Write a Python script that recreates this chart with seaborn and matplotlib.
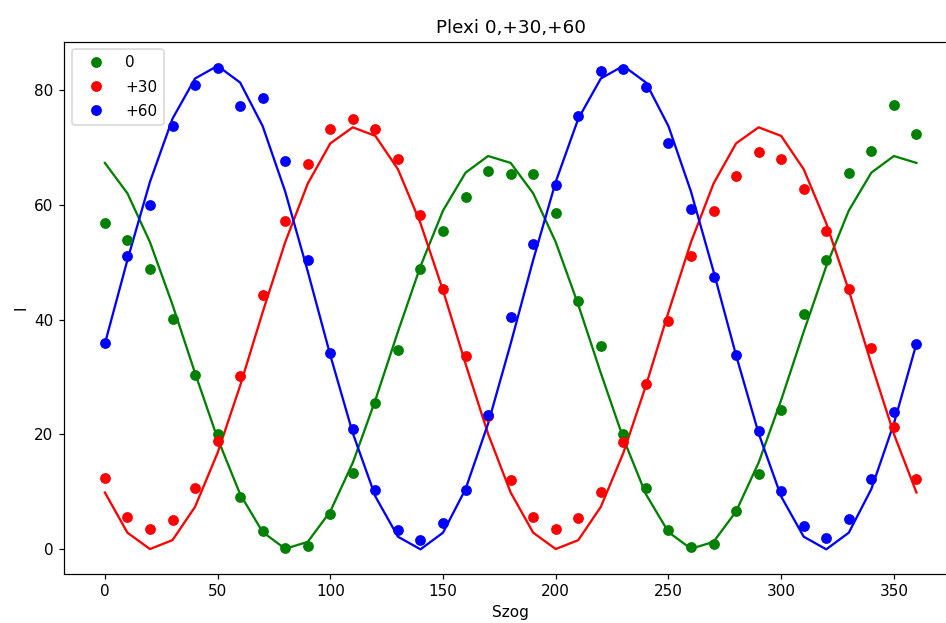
import numpy as np
import pandas as pd
import matplotlib
matplotlib.use("Agg")
import matplotlib.pyplot as plt
from matplotlib.lines import Line2D
import seaborn as sns

szog = list(range(0, 361, 10))

# measured points
i_0 = [56.9, 53.9, 48.9, 40.2, 30.3, 20.0, 9.1, 3.2, 0.2, 0.6, 6.2, 13.3, 25.4, 34.8,
       48.9, 55.5, 61.3, 65.9, 65.4, 65.4, 58.6, 43.3, 35.4, 20.0, 10.7, 3.4, 0.4, 1.0,
       6.7, 13.1, 24.3, 40.9, 50.4, 65.6, 69.4, 77.4, 72.4]
i_30 = [12.5, 5.6, 3.5, 5.1, 10.6, 18.9, 30.2, 44.3, 57.2, 67.1, 73.2, 74.9, 73.2, 68.0,
        58.2, 45.3, 33.6, 23.2, 12.1, 5.6, 3.6, 5.5, 9.9, 18.7, 28.8, 39.8, 51.1, 58.9,
        65.1, 69.2, 67.9, 62.7, 55.5, 45.3, 35.0, 21.3, 12.3]
i_60 = [36.0, 51.1, 60.0, 73.8, 80.9, 83.9, 77.2, 78.6, 67.6, 50.4, 34.2, 20.9, 10.3, 3.3,
        1.7, 4.6, 10.3, 23.4, 40.5, 53.2, 63.4, 75.4, 83.3, 83.7, 80.5, 70.8, 59.3, 47.5,
        33.8, 20.6, 10.1, 4.1, 1.9, 5.3, 12.3, 23.9, 35.8]

# fitted curves
fit_0 = [67.3, 62.0, 53.5, 42.6, 30.7, 19.3, 9.6, 3.0, 0.1, 1.3, 6.6, 15.1, 26.0, 37.9,
         49.3, 59.0, 65.6, 68.5, 67.3, 62.0, 53.5, 42.6, 30.7, 19.3, 9.6, 3.0, 0.1, 1.3,
         6.6, 15.1, 26.0, 37.9, 49.3, 59.0, 65.6, 68.5, 67.3]
fit_30 = [9.9, 2.9, 0.05, 1.6, 7.4, 16.8, 28.5, 41.3, 53.5, 63.7, 70.7, 73.5, 72.0, 66.2,
          56.8, 45.1, 32.3, 20.1, 9.9, 2.9, 0.05, 1.6, 7.4, 16.8, 28.5, 41.3, 53.5, 63.7,
          70.7, 73.5, 72.0, 66.2, 56.8, 45.1, 32.3, 20.1, 9.9]
fit_60 = [35.8, 50.4, 64.0, 75.0, 82.0, 84.2, 81.3, 73.7, 62.3, 48.4, 33.8, 20.2, 9.2, 2.2,
          0.0, 2.9, 10.5, 21.9, 35.8, 50.4, 64.0, 75.0, 82.0, 84.2, 81.3, 73.7, 62.3, 48.4,
          33.8, 20.2, 9.2, 2.2, 0.0, 2.9, 10.5, 21.9, 35.8]

labels = ["0", "+30", "+60"]
colors = ["green", "red", "blue"]

DPI = 110
fig = plt.figure(figsize=(946 / DPI, 623 / DPI), dpi=DPI)
ax = fig.add_axes([64.3 / 946, (623 - 573.5) / 623, 892.7 / 946, (573.5 - 41.7) / 623])

for pts, fit, lab, col in zip([i_0, i_30, i_60], [fit_0, fit_30, fit_60], labels, colors):
    df = pd.DataFrame({"Szog": szog, "I": pts, "fit": fit})
    sns.scatterplot(data=df, x="Szog", y="I", color=col, s=50,
                    linewidth=0, ax=ax, zorder=3, legend=False)
    sns.lineplot(data=df, x="Szog", y="fit", color=col, legend=False, ax=ax,
                 linewidth=1.5, zorder=2)

ax.spines["right"].set_visible(False)
ax.set_title("Plexi 0,+30,+60")
ax.set_xlabel("Szog")
ax.set_ylabel("I")
handles = [Line2D([], [], marker="o", linestyle="", color=c, markersize=7.1,
                  markeredgewidth=0) for c in colors]
ax.legend(handles, labels, loc="upper left", numpoints=1, handlelength=2.3,
          labelspacing=0.6)
fig.savefig("out.png", dpi=DPI)
